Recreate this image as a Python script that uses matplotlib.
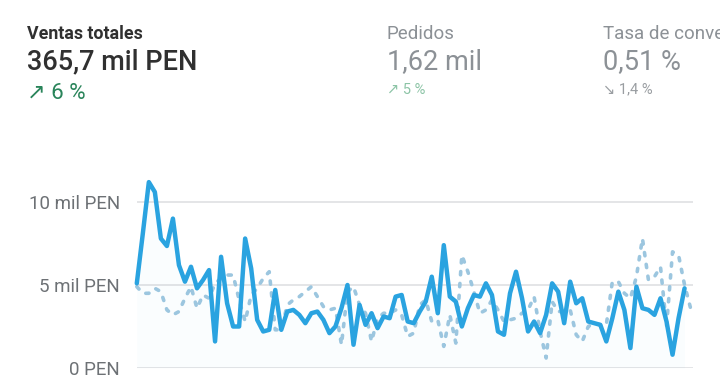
import matplotlib.pyplot as plt
import numpy as np

# ventas diarias (miles de PEN), periodo actual y periodo anterior
ventas_actual = [5.1, 8.1, 11.2, 10.6, 7.8, 7.35, 9.0, 6.2, 5.2, 6.1,
                 4.8, 5.3, 5.9, 1.6, 6.7, 3.9, 2.5, 2.5, 7.8, 6.0,
                 2.9, 2.2, 2.3, 4.7, 2.3, 3.4, 3.5, 3.2, 2.7, 3.3,
                 3.4, 2.9, 2.1, 2.5, 3.6, 5.0, 1.4, 3.8, 2.6, 3.3,
                 2.4, 3.1, 3.0, 4.3, 4.4, 2.8, 2.7, 3.4, 4.0, 5.5,
                 3.3, 7.4, 4.3, 4.0, 2.5, 3.6, 4.4, 4.3, 5.1, 4.4,
                 2.2, 2.0, 4.5, 5.8, 4.2, 2.2, 2.8, 2.1, 3.2, 5.1,
                 4.6, 2.7, 5.2, 3.9, 4.2, 2.8, 2.7, 2.6, 1.6, 3.0,
                 4.6, 3.5, 1.2, 4.9, 3.6, 3.5, 3.2, 4.2, 2.8, 0.8,
                 3.0, 4.8]
ventas_anterior = [4.9, 4.5, 4.5, 4.8, 4.6, 3.5, 3.2, 3.4, 4.2, 4.9,
                   3.6, 4.4, 4.2, 5.1, 5.4, 5.6, 5.6, 4.1, 2.8, 4.4,
                   4.8, 5.4, 5.8, 2.3, 2.3, 3.8, 4.1, 4.3, 4.6, 4.9,
                   4.3, 3.7, 3.5, 3.6, 1.4, 4.6, 4.9, 3.8, 3.3, 1.6,
                   3.0, 3.3, 3.3, 3.5, 3.2, 1.9, 2.1, 3.8, 4.1, 2.8,
                   2.9, 1.3, 3.2, 1.5, 6.8, 5.8, 4.6, 3.3, 3.5, 4.1,
                   3.5, 2.8, 2.9, 3.0, 3.3, 3.5, 4.3, 2.2, 0.6, 4.0,
                   3.4, 3.4, 3.5, 2.0, 1.6, 2.5, 2.7, 2.6, 2.6, 5.2,
                   5.2, 4.5, 4.2, 5.5, 7.8, 5.3, 5.5, 6.1, 2.5, 7.0,
                   6.8, 5.0, 3.6]

ticks_y = [0, 5, 10]
ticks_labels = ["0 PEN", "5 mil PEN", "10 mil PEN"]

fuente = ["Roboto", "DejaVu Sans"]
plt.rcParams["font.family"] = fuente

fig = plt.figure(figsize=(7.2, 3.83), dpi=100)
ax = fig.add_axes([0.190, 0.0392, 0.7725, 0.520])

dias_act = np.arange(len(ventas_actual))
dias_ant = np.arange(len(ventas_anterior))

ax.fill_between(dias_act, ventas_actual, 0, color="#2ea3e0", alpha=0.018, lw=0)
ax.plot(dias_ant, ventas_anterior, color="#9cc6df", lw=2.6,
        linestyle=(0, (0.9, 2.4)), dash_capstyle="round", solid_joinstyle="round",
        clip_on=False, zorder=2)
ax.plot(dias_act, ventas_actual, color="#2aa3e0", lw=3.2,
        solid_capstyle="round", solid_joinstyle="round", clip_on=False, zorder=3)

ax.set_xlim(0, 92.4)
ax.set_ylim(0, 12)
ax.set_yticks(ticks_y)
ax.set_yticklabels(ticks_labels, fontsize=13.5, color="#6d7175")
ax.set_xticks([])
ax.tick_params(axis="y", length=0, pad=12)
ax.grid(axis="y", color="#e4e5e7", lw=1.4)
ax.set_axisbelow(True)
for s in ax.spines.values():
    s.set_visible(False)

# encabezado con métricas
fig.text(0.0375, 0.912, "Ventas totales", fontsize=12.8, fontweight="bold",
         color="#303030", va="center")
fig.text(0.0375, 0.838, "365,7 mil PEN", fontsize=19.5, fontweight="medium",
         color="#303030", va="center")
fig.text(0.0375, 0.757, "↗ 6 %", fontsize=16, color="#29845a", va="center")

fig.text(0.5375, 0.912, "Pedidos", fontsize=13.5, color="#8c9196", va="center")
fig.text(0.5375, 0.838, "1,62 mil", fontsize=19.5, color="#8c9196", va="center")
fig.text(0.5375, 0.766, "↗ 5 %", fontsize=10.5, color="#8cc4a6", va="center")

fig.text(0.8375, 0.912, "Tasa de conversión", fontsize=13.5, color="#8c9196", va="center")
fig.text(0.8375, 0.838, "0,51 %", fontsize=19.5, color="#8c9196", va="center")
fig.text(0.8375, 0.766, "↘ 1,4 %", fontsize=10.5, color="#9a9ea2", va="center")

fig.savefig("out.png", dpi=100, facecolor="white")
